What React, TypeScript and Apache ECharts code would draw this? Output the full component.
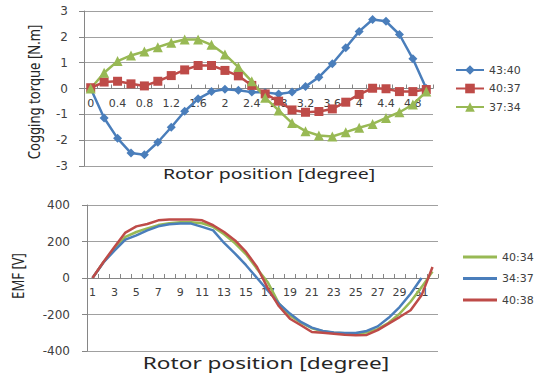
import React, { useEffect, useRef } from "react";
import * as echarts from "echarts";

const torqueCategories = ["0", "0.2", "0.4", "0.6", "0.8", "1", "1.2", "1.4", "1.6", "1.8", "2", "2.2", "2.4", "2.6", "2.8", "3", "3.2", "3.4", "3.6", "3.8", "4", "4.2", "4.4", "4.6", "4.8", "5"];
const torque4340 = [0, -1.14, -1.93, -2.5, -2.56, -2.08, -1.5, -0.88, -0.4, -0.12, -0.03, -0.07, -0.14, -0.15, -0.21, -0.14, 0.08, 0.44, 0.96, 1.58, 2.21, 2.67, 2.6, 2.09, 1.15, 0];
const torque4037 = [0.03, 0.25, 0.28, 0.18, 0.1, 0.28, 0.5, 0.72, 0.89, 0.89, 0.7, 0.49, 0.12, -0.21, -0.49, -0.83, -0.92, -0.89, -0.79, -0.53, -0.23, 0.01, -0.01, -0.12, -0.12, -0.04];
const torque3734 = [0, 0.61, 1.06, 1.28, 1.43, 1.6, 1.77, 1.9, 1.9, 1.69, 1.32, 0.83, 0.28, -0.36, -0.85, -1.34, -1.65, -1.82, -1.86, -1.69, -1.52, -1.37, -1.14, -0.92, -0.62, -0.12];

const emfCategories = ["1", "2", "3", "4", "5", "6", "7", "8", "9", "10", "11", "12", "13", "14", "15", "16", "17", "18", "19", "20", "21", "22", "23", "24", "25", "26", "27", "28", "29", "30", "31", "32"];
const emf4034 = [0, 86, 160, 225, 252, 272, 290, 300, 305, 305, 300, 280, 240, 190, 130, 50, -25, -140, -205, -245, -275, -292, -300, -303, -303, -298, -280, -245, -195, -130, -50, 35];
const emf3437 = [0, 85, 150, 210, 234, 261, 283, 294, 298, 298, 280, 261, 192, 134, 70, 0, -70, -140, -195, -241, -272, -290, -299, -301, -301, -290, -265, -218, -159, -86, 0];
const emf4038 = [0, 88, 170, 249, 283, 296, 316, 320, 320, 320, 316, 289, 252, 206, 143, 60, -58, -155, -223, -259, -296, -300, -305, -311, -314, -312, -286, -250, -214, -177, -95, 60];

const BLUE = "#4A7EBB";
const RED = "#BE4B48";
const GREEN = "#98B954";
const AXIS = "#868686";
const TEXT = "#404040";
const FONT = "Noto Sans";
const TICK_FONT = "DejaVu Sans";

const TOP_H = 155;
const BOT_H = 146;

export default function App() {
  const ref = useRef<HTMLDivElement>(null);
  useEffect(() => {
    if (!ref.current) return;
    const chart = echarts.init(ref.current, undefined, { renderer: "svg" });
    const xAxisCommon = {
      type: "category" as const,
      position: "bottom" as const,
      boundaryGap: true,
      axisLine: { show: true, onZero: false, lineStyle: { color: AXIS, width: 1 } },
      axisTick: { show: true, inside: true, length: 4, interval: 0, lineStyle: { color: AXIS } },
      axisLabel: { interval: 1, color: TEXT, fontSize: 11, fontFamily: TICK_FONT, margin: 9, hideOverlap: false },
      splitLine: { show: false },
    };
    const yAxisCommon = {
      type: "value" as const,
      axisLine: { show: true, lineStyle: { color: AXIS } },
      axisTick: { show: true, length: 5, lineStyle: { color: AXIS } },
      axisLabel: { color: TEXT, fontSize: 12, fontFamily: TICK_FONT, margin: 16 },
      splitLine: { show: true, lineStyle: { color: "#A0A0A0", width: 1 } },
    };
    chart.setOption({
      animation: false,
      backgroundColor: "#ffffff",
      grid: [
        { left: 84, right: 107, top: 11, height: TOP_H },
        { left: 87, right: 102, top: 205, height: BOT_H },
      ],
      xAxis: [
        { ...xAxisCommon, gridIndex: 0, data: torqueCategories, offset: -TOP_H / 2 },
        { ...xAxisCommon, gridIndex: 1, data: emfCategories, offset: -BOT_H / 2 },
      ],
      yAxis: [
        { ...yAxisCommon, gridIndex: 0, min: -3, max: 3, interval: 1 },
        { ...yAxisCommon, gridIndex: 1, min: -400, max: 400, interval: 200, axisLabel: { ...yAxisCommon.axisLabel, margin: 17 } },
      ],
      legend: [
        {
          orient: "vertical",
          left: 455,
          top: 64,
          padding: 0,
          itemWidth: 28,
          itemHeight: 12,
          itemGap: 6.5,
          textStyle: { color: TEXT, fontSize: 11, fontFamily: TICK_FONT, lineHeight: 12 },
          data: ["43:40", "40:37", "37:34"],
        },
        {
          orient: "vertical",
          left: 463,
          top: 251,
          padding: 0,
          itemWidth: 34,
          itemHeight: 3,
          itemGap: 9.5,
          icon: "rect",
          textStyle: { color: TEXT, fontSize: 11, fontFamily: TICK_FONT, lineHeight: 12 },
          data: ["40:34", "34:37", "40:38"],
        },
      ],
      series: [
        {
          name: "43:40", type: "line", xAxisIndex: 0, yAxisIndex: 0, data: torque4340,
          symbol: "diamond", symbolSize: 9, showAllSymbol: true,
          itemStyle: { color: BLUE }, lineStyle: { color: BLUE, width: 2.5 },
        },
        {
          name: "40:37", type: "line", xAxisIndex: 0, yAxisIndex: 0, data: torque4037,
          symbol: "rect", symbolSize: 9, showAllSymbol: true,
          itemStyle: { color: RED }, lineStyle: { color: RED, width: 2.5 },
        },
        {
          name: "37:34", type: "line", xAxisIndex: 0, yAxisIndex: 0, data: torque3734,
          symbol: "triangle", symbolSize: 10, showAllSymbol: true,
          itemStyle: { color: GREEN }, lineStyle: { color: GREEN, width: 2.5 },
        },
        {
          name: "40:34", type: "line", xAxisIndex: 1, yAxisIndex: 1, data: emf4034,
          symbol: "none", itemStyle: { color: GREEN }, lineStyle: { color: GREEN, width: 2.5 },
        },
        {
          name: "34:37", type: "line", xAxisIndex: 1, yAxisIndex: 1, data: emf3437,
          symbol: "none", itemStyle: { color: BLUE }, lineStyle: { color: BLUE, width: 2.5 },
        },
        {
          name: "40:38", type: "line", xAxisIndex: 1, yAxisIndex: 1, data: emf4038,
          symbol: "none", itemStyle: { color: RED }, lineStyle: { color: RED, width: 2.5 },
        },
      ],
      graphic: [
        {
          type: "text", x: 269, y: 173, scaleX: 1.3,
          style: { text: "Rotor position [degree]", fill: "#262626", font: `15px ${FONT}`, align: "center", verticalAlign: "middle" },
        },
        {
          type: "text", x: 266, y: 363, scaleX: 1.33,
          style: { text: "Rotor position [degree]", fill: "#262626", font: `17px ${FONT}`, align: "center", verticalAlign: "middle" },
        },
        {
          type: "text", x: 33, y: 92, rotation: Math.PI / 2, scaleX: 0.82,
          style: { text: "Cogging torque [N.m]", fill: "#262626", font: `16px ${FONT}`, align: "center", verticalAlign: "middle" },
        },
        {
          type: "text", x: 17, y: 276, rotation: Math.PI / 2, scaleX: 0.77,
          style: { text: "EMF [V]", fill: "#262626", font: `17px ${FONT}`, align: "center", verticalAlign: "middle" },
        },
      ],
    });
    return () => chart.dispose();
  }, []);
  return (
    <div
      ref={ref}
      style={{ position: "fixed", left: 0, top: 0, width: 540, height: 373, background: "#fff" }}
    />
  );
}
